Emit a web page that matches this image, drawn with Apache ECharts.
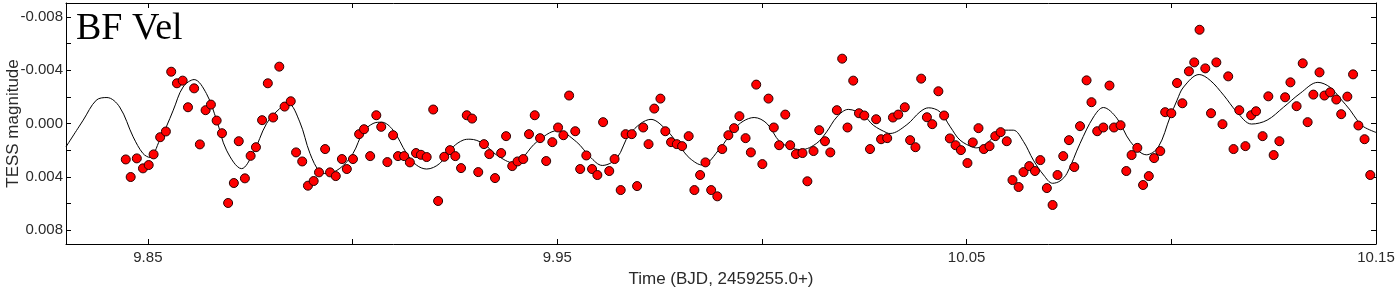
<!DOCTYPE html>
<html>
<head>
<meta charset="utf-8">
<script src="https://cdn.jsdelivr.net/npm/echarts@6/dist/echarts.min.js"></script>
<style>
html,body{margin:0;padding:0;background:#fff;}
#chart{width:1400px;height:289px;}
</style>
</head>
<body>
<div id="chart"></div>
<script>
// Observed TESS data (time, magnitude)
const obsTime = [
9.8446,9.8458,9.8473,9.8488,9.8502,9.8514,9.8530,9.8544,9.8557,9.8571,
9.8585,9.8598,9.8613,9.8627,9.8641,9.8654,9.8668,9.8681,9.8696,9.8710,
9.8722,9.8737,9.8751,9.8764,9.8779,9.8793,9.8806,9.8821,9.8834,9.8849,
9.8862,9.8877,9.8891,9.8905,9.8918,9.8933,9.8945,9.8959,9.8974,9.8986,
9.9001,9.9016,9.9028,9.9043,9.9058,9.9070,9.9085,9.9099,9.9111,9.9126,
9.9140,9.9155,9.9167,9.9181,9.9197,9.9209,9.9224,9.9238,9.9251,9.9265,
9.9279,9.9292,9.9307,9.9321,9.9334,9.9348,9.9363,9.9375,9.9390,9.9403,
9.9417,9.9431,9.9445,9.9458,9.9473,9.9488,9.9502,9.9515,9.9529,9.9544,
9.9556,9.9571,9.9585,9.9598,9.9612,9.9627,9.9640,9.9655,9.9667,9.9682,
9.9695,9.9710,9.9723,9.9737,9.9752,9.9764,9.9778,9.9792,9.9805,9.9821,
9.9835,9.9849,9.9862,9.9876,9.9891,9.9903,9.9918,9.9932,9.9945,9.9960,
9.9973,9.9986,10.0001,10.0016,10.0029,10.0042,10.0057,10.0069,10.0083,10.0099,
10.0111,10.0126,10.0140,10.0154,10.0167,10.0183,10.0196,10.0209,10.0223,10.0237,
10.0250,10.0264,10.0279,10.0291,10.0306,10.0320,10.0333,10.0349,10.0362,10.0375,
10.0389,10.0403,10.0416,10.0431,10.0445,10.0459,10.0473,10.0486,10.0502,10.0515,
10.0529,10.0542,10.0556,10.0570,10.0583,10.0598,10.0612,10.0627,10.0639,10.0653,
10.0667,10.0680,10.0696,10.0710,10.0722,10.0736,10.0750,10.0763,10.0777,10.0793,
10.0805,10.0819,10.0834,10.0849,10.0860,10.0876,10.0890,10.0903,10.0917,10.0931,
10.0945,10.0958,10.0973,10.0985,10.1000,10.1014,10.1027,10.1043,10.1056,10.1069,
10.1083,10.1097,10.1110,10.1125,10.1139,10.1152,10.1166,10.1181,10.1195,10.1207,
10.1223,10.1237,10.1250,10.1264,10.1278,10.1291,10.1306,10.1321,10.1333,10.1347,
10.1362,10.1374,10.1388,10.1403,10.1415,10.1430,10.1444,10.1457,10.1472,10.1486
];
const obsMag = [
0.00270,0.00402,0.00262,0.00337,0.00312,0.00232,0.00103,0.00060,-0.00389,-0.00302,
-0.00322,-0.00122,-0.00264,0.00157,-0.00100,-0.00142,-0.00022,0.00073,0.00597,0.00447,
0.00133,0.00412,0.00243,0.00178,-0.00025,-0.00302,-0.00045,-0.00427,-0.00127,-0.00167,
0.00217,0.00285,0.00467,0.00432,0.00367,0.00192,0.00367,0.00395,0.00267,0.00342,
0.00267,0.00080,0.00043,0.00245,-0.00062,0.00025,0.00290,0.00088,0.00245,0.00245,
0.00292,0.00222,0.00235,0.00252,-0.00105,0.00582,0.00250,0.00200,0.00245,0.00335,
-0.00062,-0.00037,0.00365,0.00155,0.00230,0.00410,0.00222,0.00095,0.00320,0.00285,
0.00267,0.00080,-0.00062,0.00110,0.00282,0.00140,0.00030,0.00088,-0.00210,0.00058,
0.00342,0.00240,0.00342,0.00387,-0.00010,0.00357,0.00267,0.00500,0.00080,0.00080,
0.00470,0.00030,0.00155,-0.00112,-0.00187,0.00058,0.00140,0.00155,0.00170,0.00095,
0.00500,0.00387,0.00292,0.00500,0.00547,0.00192,0.00088,0.00035,-0.00055,0.00110,
0.00217,-0.00292,0.00305,-0.00187,0.00030,0.00163,-0.00067,0.00163,0.00230,0.00222,
0.00434,0.00207,0.00050,0.00133,0.00217,-0.00100,-0.00487,0.00030,-0.00322,-0.00077,
-0.00060,0.00192,-0.00032,0.00118,0.00110,-0.00045,-0.00067,-0.00122,0.00125,0.00178,
-0.00337,-0.00047,0.00005,-0.00242,-0.00060,0.00112,0.00163,0.00200,0.00297,0.00142,
0.00035,0.00192,0.00170,0.00095,0.00065,0.00133,0.00425,0.00477,0.00365,0.00320,
0.00357,0.00275,0.00485,0.00612,0.00387,0.00245,0.00125,0.00327,0.00020,-0.00324,
-0.00160,0.00058,0.00030,-0.00285,0.00030,0.00013,0.00357,0.00237,0.00183,0.00462,
0.00395,0.00260,0.00207,-0.00085,-0.00077,-0.00304,-0.00152,-0.00392,-0.00459,-0.00704,
-0.00414,-0.00077,-0.00459,0.00005,-0.00354,0.00192,-0.00100,0.00170,-0.00062,-0.00092,
0.00095,-0.00204,0.00237,0.00133,-0.00197,-0.00309,-0.00130,-0.00452,-0.00010,-0.00217,
-0.00384,-0.00210,-0.00234,-0.00180,-0.00070,-0.00202,-0.00369,0.00015,0.00118,0.00387
];
// Fitted model curve (sampled from the plot)
const fitTime = [
9.8300,9.8342,9.8374,9.8400,9.8431,9.8464,9.8488,9.8505,9.8529,9.8545,
9.8562,9.8586,9.8613,9.8643,9.8668,9.8692,9.8729,9.8757,9.8790,9.8822,
9.8843,9.8871,9.8896,9.8920,9.8937,9.8969,9.9001,9.9026,9.9050,9.9071,
9.9099,9.9132,9.9156,9.9181,9.9213,9.9246,9.9270,9.9287,9.9319,9.9352,
9.9394,9.9450,9.9500,9.9547,9.9580,9.9610,9.9645,9.9678,9.9729,9.9767,
9.9800,9.9824,9.9854,9.9898,9.9930,9.9954,9.9981,10.0012,10.0044,10.0077,
10.0097,10.0134,10.0158,10.0183,10.0211,10.0248,10.0272,10.0305,10.0313,10.0354,
10.0386,10.0407,10.0435,10.0460,10.0484,10.0517,10.0525,10.0549,10.0574,10.0590,
10.0614,10.0639,10.0663,10.0688,10.0710,10.0728,10.0745,10.0777,10.0810,10.0834,
10.0867,10.0900,10.0939,10.0968,10.0997,10.1014,10.1030,10.1068,10.1095,10.1128,
10.1160,10.1196,10.1234,10.1274,10.1315,10.1358,10.1388,10.1413,10.1437,10.1454,
10.1470,10.1500
];
const fitMag = [
0.00175,-0.00025,-0.00175,-0.00195,-0.00124,0.00100,0.00225,0.00255,0.00125,0.00025,
-0.00100,-0.00274,-0.00330,-0.00225,-0.00025,0.00200,0.00339,0.00225,0.00000,-0.00112,
-0.00150,-0.00012,0.00225,0.00363,0.00375,0.00337,0.00225,0.00063,0.00000,-0.00010,
0.00050,0.00225,0.00312,0.00342,0.00300,0.00175,0.00125,0.00118,0.00150,0.00237,
0.00297,0.00138,0.00054,0.00138,0.00250,0.00315,0.00262,0.00075,-0.00031,0.00050,
0.00175,0.00262,0.00312,0.00185,0.00050,-0.00017,-0.00045,0.00000,0.00138,0.00187,
0.00196,0.00148,0.00063,-0.00049,-0.00106,-0.00062,0.00013,0.00070,0.00075,0.00009,
-0.00087,-0.00118,-0.00087,0.00025,0.00125,0.00180,0.00183,0.00150,0.00075,0.00050,
0.00050,0.00136,0.00275,0.00387,0.00449,0.00432,0.00375,0.00150,-0.00049,-0.00120,
-0.00040,0.00136,0.00235,0.00178,-0.00049,-0.00175,-0.00274,-0.00368,-0.00324,-0.00212,
-0.00087,0.00004,-0.00025,-0.00122,-0.00227,-0.00309,-0.00272,-0.00187,-0.00100,-0.00025,
0.00025,0.00067
];
const xTicks = [9.85, 9.90, 9.95, 10.00, 10.05, 10.10, 10.15];
const xTickLabels = [9.85, 9.95, 10.05, 10.15];
const yTicks = [-0.008, -0.006, -0.004, -0.002, 0, 0.002, 0.004, 0.006, 0.008];
const yTickLabels = [-0.008, -0.004, 0, 0.004, 0.008];

const chart = echarts.init(document.getElementById('chart'), null, {renderer: 'canvas'});
const labelFont = {fontFamily: 'Liberation Sans, Arial, sans-serif', fontSize: 15, color: '#2a2a2a'};
const lineStyle = {color: '#000', width: 1};
const xRange = {min: 9.83, max: 10.15};
const yRange = {min: -0.00905, max: 0.00905};

chart.setOption({
  animation: false,
  backgroundColor: '#fff',
  title: {
    text: 'BF Vel',
    left: 71, top: 5,
    textStyle: {fontFamily: 'Liberation Serif, Times New Roman, serif', fontSize: 38, fontWeight: 'normal', color: '#000', lineHeight: 38}
  },
  grid: {left: 66, right: 24, top: 3, bottom: 45, containLabel: false, outerBoundsMode: 'none'},
  xAxis: [{
    type: 'value', ...xRange, position: 'bottom',
    name: 'Time (BJD, 2459255.0+)', nameLocation: 'middle', nameGap: 27, nameMoveOverlap: false,
    nameTextStyle: {fontFamily: 'Liberation Sans, Arial, sans-serif', fontSize: 17, color: '#2a2a2a'},
    axisLine: {show: true, onZero: false, lineStyle},
    axisTick: {show: true, inside: true, length: 5, customValues: xTicks, lineStyle},
    axisLabel: {show: true, margin: 6, customValues: xTickLabels, ...labelFont, formatter: v => v.toFixed(2)},
    splitLine: {show: false}
  }, {
    type: 'value', ...xRange, position: 'top',
    axisLine: {show: true, onZero: false, lineStyle},
    axisTick: {show: true, inside: true, length: 5, customValues: xTicks, lineStyle},
    axisLabel: {show: false},
    splitLine: {show: false}
  }],
  yAxis: [{
    type: 'value', ...yRange, inverse: true, position: 'left',
    name: 'TESS magnitude', nameLocation: 'middle', nameGap: 44, nameMoveOverlap: false,
    nameTextStyle: {fontFamily: 'Liberation Sans, Arial, sans-serif', fontSize: 17, color: '#2a2a2a'},
    axisLine: {show: true, onZero: false, lineStyle},
    axisTick: {show: true, inside: true, length: 5, customValues: yTicks, lineStyle},
    axisLabel: {show: true, margin: 3, customValues: yTickLabels, ...labelFont, formatter: v => v.toFixed(3)},
    splitLine: {show: false}
  }, {
    type: 'value', ...yRange, inverse: true, position: 'right',
    axisLine: {show: true, onZero: false, lineStyle},
    axisTick: {show: true, inside: true, length: 5, customValues: yTicks, lineStyle},
    axisLabel: {show: false},
    splitLine: {show: false}
  }],
  series: [{
    type: 'line',
    data: fitTime.map((t, i) => [t, fitMag[i]]),
    smooth: 0.35,
    showSymbol: false,
    lineStyle: {color: '#000', width: 1},
    z: 2,
    silent: true
  }, {
    type: 'scatter',
    data: obsTime.map((t, i) => [t, obsMag[i]]),
    symbolSize: 9,
    itemStyle: {color: '#ff0000', borderColor: '#2a0000', borderWidth: 1, opacity: 1},
    z: 3,
    silent: true
  }]
});
</script>
</body>
</html>
